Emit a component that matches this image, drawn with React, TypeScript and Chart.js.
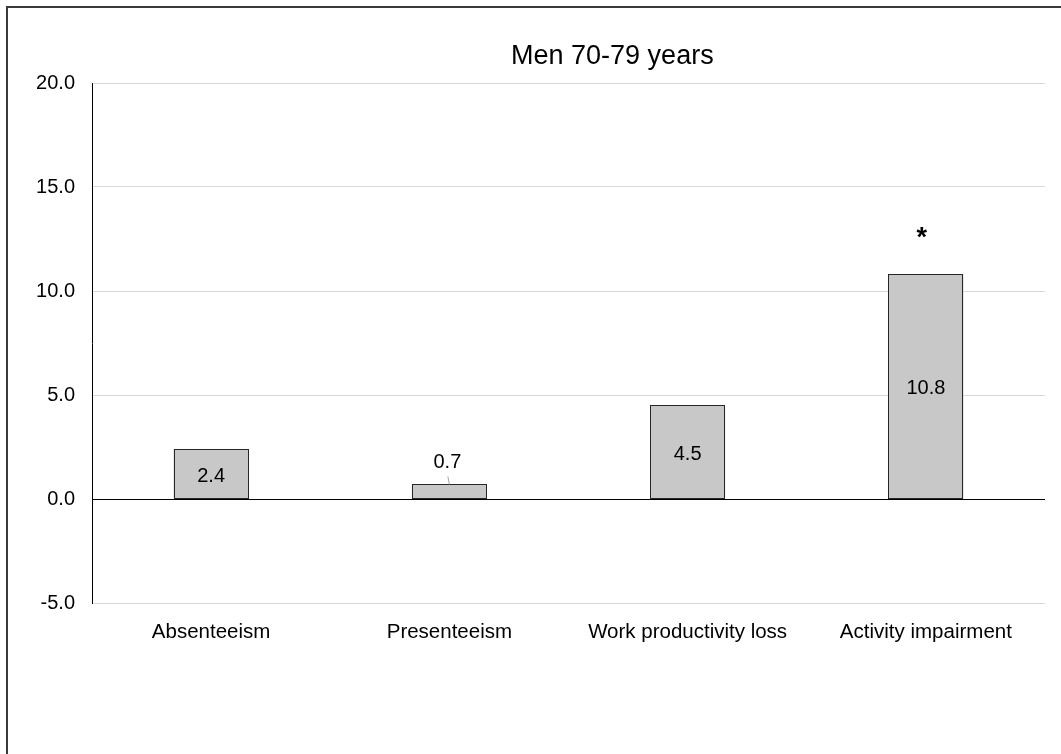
import React, { useEffect, useRef } from "react";
import { Chart, registerables } from "chart.js";

Chart.register(...registerables);

const titleText = "Men 70-79 years";
const categories = ["Absenteeism", "Presenteeism", "Work productivity loss", "Activity impairment"];
const values = [2.4, 0.7, 4.5, 10.8];
const significance = ["", "", "", "*"];
const yTicks = [-5, 0, 5, 10, 15, 20];

const FONT = "'Liberation Sans', Arial, sans-serif";

const decorPlugin = {
  id: "decor",
  afterDatasetsDraw(chart: any) {
    const ctx = chart.ctx;
    const meta = chart.getDatasetMeta(0);
    ctx.save();
    // frame lines (top & left)
    ctx.fillStyle = "#3a3a3a";
    ctx.fillRect(6, 6, chart.width - 6, 2);
    ctx.fillRect(6, 6, 2, chart.height - 6);
    // crisp bar outlines
    ctx.strokeStyle = "#262626";
    ctx.lineWidth = 1;
    meta.data.forEach((el: any) => {
      const l = Math.round(el.x - el.width / 2) + 0.5;
      const r = Math.round(el.x + el.width / 2) - 0.5;
      const t = Math.round(Math.min(el.y, el.base)) + 0.5;
      const b = Math.round(Math.max(el.y, el.base)) - 0.5;
      ctx.strokeRect(l, t, r - l, b - t);
    });
    // title
    ctx.fillStyle = "#000";
    ctx.font = `27px ${FONT}`;
    ctx.textAlign = "center";
    ctx.textBaseline = "alphabetic";
    const area = chart.chartArea;
    ctx.fillText(titleText, area.left + (area.right - area.left) * 0.546, 64);
    // value labels
    ctx.font = `20px ${FONT}`;
    meta.data.forEach((el: any, i: number) => {
      const v = values[i];
      const h = Math.abs(el.base - el.y);
      const label = v.toFixed(1);
      ctx.fillStyle = "#000";
      if (h >= 30) {
        ctx.fillText(label, el.x, (el.y + el.base) / 2 + 8);
      } else {
        ctx.fillText(label, el.x - 2, el.y - 16);
        ctx.strokeStyle = "#a6a6a6";
        ctx.lineWidth = 1;
        ctx.beginPath();
        ctx.moveTo(el.x - 1.5, el.y - 8);
        ctx.lineTo(el.x, el.y);
        ctx.stroke();
      }
      if (significance[i]) {
        ctx.font = `bold 27px ${FONT}`;
        ctx.fillText(significance[i], el.x - 4, el.y - 28);
        ctx.font = `20px ${FONT}`;
      }
    });
    ctx.restore();
  },
};

export default function App() {
  const ref = useRef<HTMLCanvasElement | null>(null);
  useEffect(() => {
    if (!ref.current) return;
    const chart = new Chart(ref.current, {
      type: "bar",
      data: {
        labels: categories,
        datasets: [
          {
            data: values,
            backgroundColor: "#c8c8c8",
            borderWidth: 0,
            categoryPercentage: 1,
            barPercentage: 0.315,
          },
        ],
      },
      options: {
        responsive: false,
        animation: false,
        layout: { padding: { left: 0, top: 83, right: 16, bottom: 0 } },
        plugins: { legend: { display: false }, tooltip: { enabled: false }, title: { display: false } },
        scales: {
          x: {
            grid: { display: false, drawTicks: false },
            border: { display: false },
            ticks: { color: "#000", font: { family: FONT, size: 20.5 }, padding: 17, maxRotation: 0 },
            afterFit(scale: any) {
              scale.height = 151;
            },
          },
          y: {
            min: yTicks[0],
            max: yTicks[yTicks.length - 1],
            afterBuildTicks(scale: any) {
              scale.ticks = yTicks.map((v) => ({ value: v }));
            },
            grid: {
              drawTicks: false,
              color: (c: any) => (c.tick && c.tick.value === 0 ? "#000" : "#d9d9d9"),
              lineWidth: 1,
            },
            border: { display: true, color: "#000", width: 1 },
            ticks: {
              color: "#000",
              font: { family: FONT, size: 20 },
              padding: 17,
              callback: (v: any) => Number(v).toFixed(1),
            },
            afterFit(scale: any) {
              scale.width = 92;
            },
          },
        },
      },
      plugins: [decorPlugin],
    });
    return () => chart.destroy();
  }, []);
  return (
    <div style={{ position: "fixed", left: 0, top: 0, width: 1061, height: 754, background: "#fff" }}>
      <canvas ref={ref} width={1061} height={754} style={{ display: "block" }} />
    </div>
  );
}
